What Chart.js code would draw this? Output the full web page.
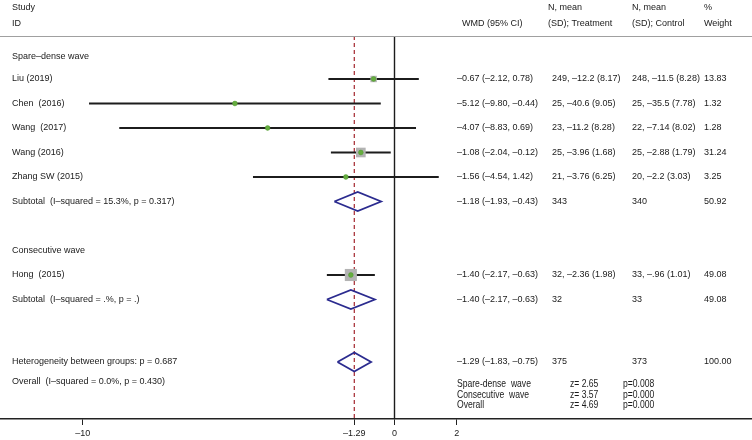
<!DOCTYPE html>
<html>
<head>
<meta charset="utf-8">
<script src="https://cdn.jsdelivr.net/npm/chart.js@4.4.1/dist/chart.umd.min.js"></script>
<style>
  html, body { margin: 0; padding: 0; background: #fff; }
  #wrap { width: 752px; height: 440px; }
</style>
</head>
<body>
<div id="wrap"><canvas id="forest" width="752" height="440"></canvas></div>
<script>
// Forest plot: WMD (95% CI), spare-dense vs consecutive wave subgroups.

// --- individual studies ---
const studyLabels  = ["Liu (2019)", "Chen  (2016)", "Wang  (2017)", "Wang (2016)", "Zhang SW (2015)", "Hong  (2015)"]
const studyRows    = [1, 2, 3, 4, 5, 9]
const studyEst     = [-0.67, -5.12, -4.07, -1.08, -1.56, -1.40]
const studyLo      = [-2.12, -9.80, -8.83, -2.04, -4.54, -2.17]
const studyHi      = [0.78, -0.44, 0.69, -0.12, 1.42, -0.63]
const studyWeight  = [13.83, 1.32, 1.28, 31.24, 3.25, 49.08]
const studyTreat   = ["249, –12.2 (8.17)", "25, –40.6 (9.05)", "23, –11.2 (8.28)", "25, –3.96 (1.68)", "21, –3.76 (6.25)", "32, –2.36 (1.98)"]
const studyControl = ["248, –11.5 (8.28)", "25, –35.5 (7.78)", "22, –7.14 (8.02)", "25, –2.88 (1.79)", "20, –2.2 (3.03)", "33, –.96 (1.01)"]

// --- pooled estimates (two subtotals + overall) ---
const pooledLabels  = ["Subtotal  (I–squared = 15.3%, p = 0.317)", "Subtotal  (I–squared = .%, p = .)", "Overall  (I–squared = 0.0%, p = 0.430)"]
const pooledRows    = [6, 10, 12.55]
const pooledLabelRows = [6, 10, 13.35]
const pooledEst     = [-1.18, -1.40, -1.29]
const pooledLo      = [-1.93, -2.17, -1.83]
const pooledHi      = [-0.43, -0.63, -0.75]
const pooledTreat   = ["343", "32", "375"]
const pooledControl = ["340", "33", "373"]
const pooledWeight  = ["50.92", "49.08", "100.00"]

// --- group headers and other notes ---
const groupLabels = ["Spare–dense wave", "Consecutive wave"]
const groupRows   = [0.1, 8]
const hetLabel    = "Heterogeneity between groups: p = 0.687"
const hetRow      = 12.55

const zLabels = ["Spare-dense  wave", "Consecutive  wave", "Overall"]
const zValues = ["z= 2.65", "z= 3.57", "z= 4.69"]
const pValues = ["p=0.008", "p=0.000", "p=0.000"]

const xTicks     = [-10, -1.29, 0, 2]
const overallRef = -1.29

// --- layout ---
const FAMILY = '"Liberation Sans", Arial, Helvetica, sans-serif'
const FONT   = "9px " + FAMILY
const FONT_Z = "11px " + FAMILY
const Z_SQUEEZE = 0.78   // z block is set in a narrow face
const COL    = { label: 12, wmd: 457, treat: 552, ctrl: 632, weight: 704 }
const Y_MIN  = -0.755
const Y_MAX  = 14.878
const DIAMOND_H = 0.39

const dash = (v) => v.toFixed(2).replace("-", "–")
const wmdText = (e, l, h) => `${dash(e)} (${dash(l)}, ${dash(h)})`

// datasets: first in list is drawn on top
const diamonds = pooledEst.map((e, i) => ({
  data: [
    { x: pooledLo[i], y: pooledRows[i] },
    { x: e, y: pooledRows[i] - DIAMOND_H },
    { x: pooledHi[i], y: pooledRows[i] },
    { x: e, y: pooledRows[i] + DIAMOND_H },
    { x: pooledLo[i], y: pooledRows[i] },
  ],
  showLine: true,
  borderColor: "#2b2b8f",
  borderWidth: 1.8,
  pointRadius: 0,
  tension: 0,
}))

const dots = {
  data: studyEst.map((e, i) => ({ x: e, y: studyRows[i] })),
  pointStyle: "circle",
  pointRadius: 2.4,
  backgroundColor: "#66ad3f",
  borderColor: "#4f9a2e",
  borderWidth: 0.5,
}

const boxes = {
  data: studyEst.map((e, i) => ({ x: e, y: studyRows[i] })),
  pointStyle: "rect",
  pointRadius: studyWeight.map(w => Math.sqrt(w) * 1.22),
  backgroundColor: "#b3b3b3",
  borderWidth: 0,
}

const ciLines = studyEst.map((e, i) => ({
  data: [{ x: studyLo[i], y: studyRows[i] }, { x: studyHi[i], y: studyRows[i] }],
  showLine: true,
  borderColor: "#1c1c1c",
  borderWidth: 2,
  pointRadius: 0,
}))

const refLine = {
  data: [{ x: overallRef, y: Y_MIN }, { x: overallRef, y: Y_MAX }],
  showLine: true,
  borderColor: "#a3262e",
  borderWidth: 1.2,
  borderDash: [4, 3],
  pointRadius: 0,
}

const nullLine = {
  data: [{ x: 0, y: Y_MIN }, { x: 0, y: Y_MAX }],
  showLine: true,
  borderColor: "#1c1c1c",
  borderWidth: 1.4,
  pointRadius: 0,
}

const tablePlugin = {
  id: "forestTable",
  afterDraw(chart) {
    const { ctx, chartArea, scales: { y } } = chart
    const rowY = (r) => y.getPixelForValue(r)
    const text = (s, x, yy) => ctx.fillText(s, x, yy)

    ctx.save()
    // header rule
    ctx.strokeStyle = "#a0a0a0"
    ctx.lineWidth = 1
    ctx.beginPath()
    ctx.moveTo(0, chartArea.top + 0.5)
    ctx.lineTo(chart.width, chartArea.top + 0.5)
    ctx.stroke()

    ctx.fillStyle = "#1a1a1a"
    ctx.textBaseline = "middle"
    ctx.textAlign = "left"
    ctx.font = FONT

    // header
    text("Study", COL.label, 8)
    text("ID", COL.label, 24)
    text("WMD (95% CI)", 462, 24)
    text("N, mean", 548, 8)
    text("(SD); Treatment", 548, 24)
    text("N, mean", 632, 8)
    text("(SD); Control", 632, 24)
    text("%", 704, 8)
    text("Weight", 704, 24)

    groupLabels.forEach((g, i) => text(g, COL.label, rowY(groupRows[i])))

    studyLabels.forEach((s, i) => {
      const yy = rowY(studyRows[i])
      text(s, COL.label, yy)
      text(wmdText(studyEst[i], studyLo[i], studyHi[i]), COL.wmd, yy)
      text(studyTreat[i], COL.treat, yy)
      text(studyControl[i], COL.ctrl, yy)
      text(studyWeight[i].toFixed(2), COL.weight, yy)
    })

    pooledLabels.forEach((s, i) => {
      text(s, COL.label, rowY(pooledLabelRows[i]))
      const yy = rowY(pooledRows[i])
      text(wmdText(pooledEst[i], pooledLo[i], pooledHi[i]), COL.wmd, yy)
      text(pooledTreat[i], COL.treat, yy)
      text(pooledControl[i], COL.ctrl, yy)
      text(pooledWeight[i], COL.weight, yy)
    })

    text(hetLabel, COL.label, rowY(hetRow))

    // z-test block (narrow text)
    ctx.font = FONT_Z
    const narrow = (s, x, yy) => {
      ctx.save()
      ctx.translate(x, yy)
      ctx.scale(Z_SQUEEZE, 1)
      ctx.fillText(s, 0, 0)
      ctx.restore()
    }
    zLabels.forEach((s, i) => {
      const yy = 384 + i * 10.5
      narrow(s, 457, yy)
      narrow(zValues[i], 570, yy)
      narrow(pValues[i], 623, yy)
    })
    ctx.restore()
  },
}

new Chart(document.getElementById("forest"), {
  type: "scatter",
  data: { datasets: [...diamonds, dots, boxes, ...ciLines, refLine, nullLine] },
  options: {
    responsive: false,
    animation: false,
    layout: { autoPadding: false, padding: { top: 36, left: 0, right: 0, bottom: 0 } },
    scales: {
      x: {
        type: "linear",
        min: -12.656,
        max: 11.469,
        afterBuildTicks: (scale) => { scale.ticks = xTicks.map(v => ({ value: v })) },
        afterFit: (scale) => { scale.height = 21 },
        ticks: {
          autoSkip: false,
          maxRotation: 0,
          padding: 3,
          color: "#1a1a1a",
          font: { family: FAMILY, size: 9 },
          callback: (v) => String(v).replace("-", "–"),
        },
        grid: { drawOnChartArea: false, drawTicks: true, tickLength: 6, color: "#222", lineWidth: 1 },
        border: { display: true, color: "#222", width: 1.4 },
      },
      y: {
        type: "linear",
        display: false,
        reverse: true,
        min: Y_MIN,
        max: Y_MAX,
      },
    },
    plugins: {
      legend: { display: false },
      tooltip: { enabled: false },
    },
  },
  plugins: [tablePlugin],
})
</script>
</body>
</html>
